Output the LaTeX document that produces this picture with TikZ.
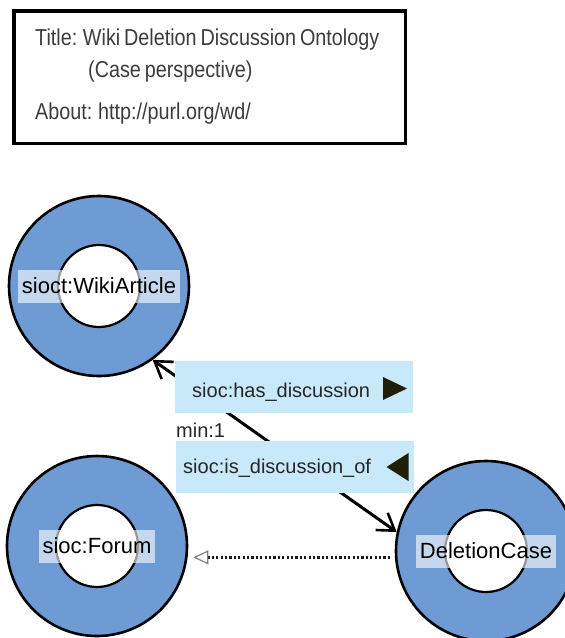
\documentclass[tikz,border=0pt]{standalone}
\usepackage{fontspec}
\setmainfont{Liberation Sans}
\newfontfamily\titlefont{Liberation Sans}[FakeStretch=0.86,WordSpace=0.7]
\usetikzlibrary{arrows.meta,positioning,calc}
\definecolor{ringblue}{RGB}{110,155,211}
\definecolor{rolefill}{RGB}{200,233,250}
\definecolor{markdark}{RGB}{32,30,6}
\definecolor{titlegray}{RGB}{60,60,60}

\begin{document}
\begin{tikzpicture}[
  x=1pt, y=-1pt,
  ring/.style={draw, circle, line width=2.6pt, fill=ringblue, minimum size=180pt, inner sep=0pt},
  hole/.style={draw, circle, line width=2.2pt, fill=white, minimum size=82pt, inner sep=0pt},
  classname/.style={fill=white, fill opacity=0.6, text opacity=1, font=\fontsize{22}{24}\selectfont,
    inner xsep=4pt, minimum height=33pt},
  rolebox/.style={fill=rolefill, minimum width=238pt, minimum height=52pt, inner sep=0pt},
  roletext/.style={font=\fontsize{20}{22}\selectfont, text=black!85, inner sep=0pt, anchor=base west},
  dirmark/.style={fill=markdark},
  link/.style={line width=3pt,
    {Straight Barb[length=16pt,width=21pt,line width=2.6pt]}-{Straight Barb[length=16pt,width=21pt,line width=2.6pt]}},
  subclass/.style={line width=2.6pt, dash pattern=on 2.2pt off 2.2pt, black!90,
    -{Triangle[open,length=15pt,width=14pt,line width=1.2pt,color=gray]}, shorten <=5pt, shorten >=5pt},
  titletext/.style={font=\titlefont\fontsize{23}{25}\selectfont, text=titlegray, inner sep=0pt, anchor=base west}
]
\useasboundingbox (0,0) rectangle (565,638);

% header
\node[draw, line width=3.5pt, minimum width=391.5pt, minimum height=132.5pt] (titlebox) at (209.5,77) {};
\node[titletext] (titleline) at (35,45) {Title: Wiki Deletion Discussion Ontology};
\node[titletext] (perspline) at (88,77) {(Case perspective)};
\node[titletext] (aboutline) at (35,119) {About: http://purl.org/wd/};

% classes
\node[ring] (wiki) at (99,286) {};
\node[hole] at (wiki) {};
\node[classname] (wikiname) at (wiki) {sioct:WikiArticle};

\node[ring] (forum) at (97,546) {};
\node[hole] at (forum) {};
\node[classname] (forumname) at (forum) {sioc:Forum};

\node[ring] (dc) at (486,551) {};
\node[hole] at (dc) {};
\node[classname] (dcname) at (dc) {DeletionCase};

% relations
\draw[link] (dc.168) -- (wiki.-54);
\draw[subclass] (dc.184) -- (dc.184 -| forum.east);

\node[rolebox] (hasbox) at (294,387) {};
\node[roletext] (hastext) at (192,397) {sioc:has\_discussion};
\coordinate (hasdir) at (395,388.5);
\fill[dirmark] (hasdir) ++(-12,-11.5) -- ++(24,11.5) -- ++(-24,11.5) -- cycle;

\node[roletext] (mincard) at (176,437) {min:1};

\node[rolebox] (isbox) at (294.5,467) {};
\node[roletext] (istext) at (183,473) {sioc:is\_discussion\_of};
\coordinate (isdir) at (397.5,467);
\fill[dirmark] (isdir) ++(11,-14) -- ++(-22,14) -- ++(22,14) -- cycle;
\end{tikzpicture}
\end{document}
